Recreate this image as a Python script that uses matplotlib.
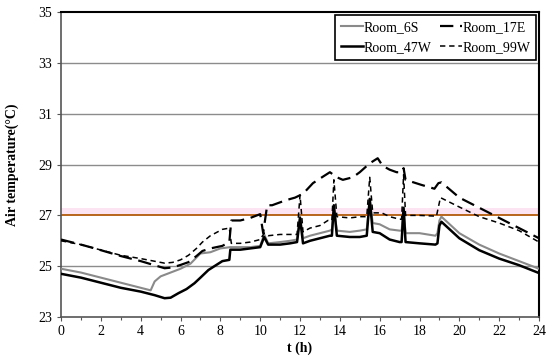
import matplotlib
matplotlib.use("Agg")
import matplotlib.pyplot as plt

plt.rcParams['font.family'] = ['Liberation Serif', 'DejaVu Serif']

# --- data ---
t_6S = [0, 1, 2, 3, 4, 4.5, 4.7, 5, 5.5, 6, 6.5, 7, 7.5, 8, 8.5, 9, 9.5, 10, 10.2, 10.4,
        11, 11.5, 11.85, 12.0, 12.15, 12.5, 13, 13.5, 13.6, 13.7, 13.85, 14.5, 15, 15.35,
        15.5, 15.65, 16, 16.5, 17, 17.1, 17.2, 17.3, 18, 18.8, 18.9, 19.0, 19.1, 20, 21,
        22, 23, 24]
v_6S = [24.9, 24.75, 24.55, 24.35, 24.15, 24.05, 24.4, 24.6, 24.75, 24.9, 25.1, 25.5, 25.55,
        25.7, 25.75, 25.75, 25.75, 25.8, 26.25, 25.9, 25.95, 26.0, 26.05, 26.95, 26.1, 26.2,
        26.3, 26.4, 26.45, 27.3, 26.4, 26.35, 26.4, 26.45, 27.6, 26.7, 26.65, 26.45, 26.4,
        26.4, 27.2, 26.3, 26.3, 26.2, 26.3, 26.8, 26.95, 26.3, 25.85, 25.5, 25.2, 24.9]

t_47W = [0, 1, 2, 3, 4, 4.7, 5.2, 5.5, 5.9, 6.3, 6.7, 7.0, 7.4, 7.8, 8.1, 8.45, 8.5, 9, 9.5,
         10, 10.2, 10.4, 11, 11.5, 11.85, 12.0, 12.15, 12.5, 13, 13.5, 13.6, 13.7, 13.85,
         14.5, 15, 15.35, 15.5, 15.65, 16, 16.5, 17, 17.1, 17.2, 17.3, 18, 18.8, 18.9, 19.0,
         19.1, 20, 21, 22, 23, 24]
v_47W = [24.7, 24.55, 24.35, 24.15, 24.0, 23.86, 23.74, 23.76, 23.94, 24.1, 24.33, 24.55,
         24.85, 25.05, 25.2, 25.25, 25.65, 25.65, 25.7, 25.75, 26.15, 25.85, 25.85, 25.9,
         25.95, 26.9, 25.9, 26.0, 26.1, 26.2, 26.2, 27.4, 26.2, 26.15, 26.15, 26.2, 27.65,
         26.35, 26.3, 26.05, 25.95, 25.95, 27.3, 25.95, 25.9, 25.85, 25.9, 26.6, 26.75, 26.1,
         25.63, 25.3, 25.04, 24.73]

t_17E = [0, 1, 1.7, 3, 4, 5.2, 5.6, 6.0, 6.4, 6.8, 7.1, 7.5, 8.1, 8.45, 8.55, 9, 9.5, 10.0,
         10.15, 10.35, 10.6, 11.3, 11.75, 12.15, 12.65, 13.0, 13.5, 13.85, 14.15, 14.65, 15.0,
         15.5, 15.9, 16.15, 16.5, 16.85, 17.1, 17.2, 17.3, 18.1, 18.75, 18.95, 19.1, 20, 21,
         22, 23, 24]
v_17E = [26.05, 25.85, 25.7, 25.4, 25.2, 24.92, 24.95, 25.05, 25.16, 25.4, 25.6, 25.7, 25.8,
         25.95, 26.8, 26.8, 26.9, 27.05, 26.3, 27.4, 27.4, 27.6, 27.7, 27.85, 28.27, 28.45,
         28.7, 28.5, 28.4, 28.5, 28.7, 29.05, 29.25, 28.95, 28.8, 28.7, 28.7, 28.86, 28.4,
         28.2, 28.05, 28.27, 28.3, 27.7, 27.3, 26.9, 26.5, 26.1]

t_99W = [0, 1, 1.7, 3, 4, 5.2, 5.6, 6.0, 6.4, 6.8, 7.1, 7.5, 8.1, 8.45, 8.55, 9, 9.5, 10.0,
         10.2, 10.4, 11, 11.5, 11.85, 12.0, 12.15, 12.5, 13.0, 13.4, 13.6, 13.7, 13.85, 14.5,
         15.0, 15.35, 15.5, 15.65, 16.1, 16.5, 17.0, 17.1, 17.2, 17.3, 18.0, 18.85, 19.05, 20,
         21, 22, 23, 24]
v_99W = [26.0, 25.85, 25.7, 25.43, 25.3, 25.12, 25.15, 25.25, 25.43, 25.7, 25.95, 26.2, 26.45,
         26.5, 25.9, 25.9, 25.95, 26.05, 26.3, 26.2, 26.25, 26.25, 26.25, 27.8, 26.35, 26.5,
         26.6, 26.8, 26.8, 28.4, 26.95, 26.9, 26.95, 26.95, 28.5, 27.1, 27.1, 26.95, 26.85,
         26.85, 28.6, 27.0, 27.0, 26.97, 27.7, 27.33, 26.95, 26.7, 26.4, 25.95]

x_ticks = [0, 2, 4, 6, 8, 10, 12, 14, 16, 18, 20, 22, 24]
y_ticks = [23, 25, 27, 29, 31, 33, 35]
threshold = 27.0
band_top = 27.3

fig = plt.figure(figsize=(5.5, 3.58), dpi=100)
ax = fig.add_axes([0.111, 0.1145, 0.869, 0.8515])

ax.axhspan(threshold, band_top, color='#fde4f2', zorder=0, lw=0)
for yv in [25, 29, 31, 33]:
    ax.axhline(yv, color='#8c8c8c', lw=1.0, zorder=1)
ax.axhline(threshold, color='#b8651b', lw=1.4, zorder=1.5)

l1, = ax.plot(t_6S, v_6S, color='#8a8a8a', lw=1.5, label='Room_6S', zorder=3)
l3, = ax.plot(t_47W, v_47W, color='black', lw=1.8, label='Room_47W', zorder=3)
l2, = ax.plot(t_17E, v_17E, color='black', lw=1.6, dashes=(6, 3), label='Room_17E', zorder=3)
l4, = ax.plot(t_99W, v_99W, color='black', lw=1.1, dashes=(3.5, 2.5), label='Room_99W', zorder=3)

ax.set_xlim(0, 24)
ax.set_ylim(23, 35)
ax.set_xticks(x_ticks)
ax.set_xticks(range(0, 25), minor=True)
ax.set_yticks(y_ticks)
ax.tick_params(axis='both', labelsize=10, direction='out', length=3, width=0.8, color='#555555')
ax.tick_params(axis='x', which='minor', direction='out', length=2.5, width=0.8, color='#555555')
ax.tick_params(axis='x', pad=3)

for s in ['left', 'bottom']:
    ax.spines[s].set_color('#555555')
    ax.spines[s].set_linewidth(1.2)
for s in ['right', 'top']:
    ax.spines[s].set_color('black')
    ax.spines[s].set_linewidth(1.5)

ax.set_xlabel('t (h)', fontsize=10, fontweight='bold', labelpad=2)
ax.set_ylabel('Air temperature(°C)', fontsize=10, fontweight='bold', labelpad=14)

leg = ax.legend(handles=[l1, l3, l2, l4], ncol=2, loc='upper right',
                bbox_to_anchor=(0.997, 0.995), borderaxespad=0.1, fontsize=10,
                frameon=True, fancybox=False, edgecolor='black', framealpha=1,
                handlelength=1.6, handletextpad=0.05, columnspacing=0.6,
                labelspacing=0.55, borderpad=0.4)
leg.get_frame().set_linewidth(1.2)

fig.savefig('out.png', dpi=100)
